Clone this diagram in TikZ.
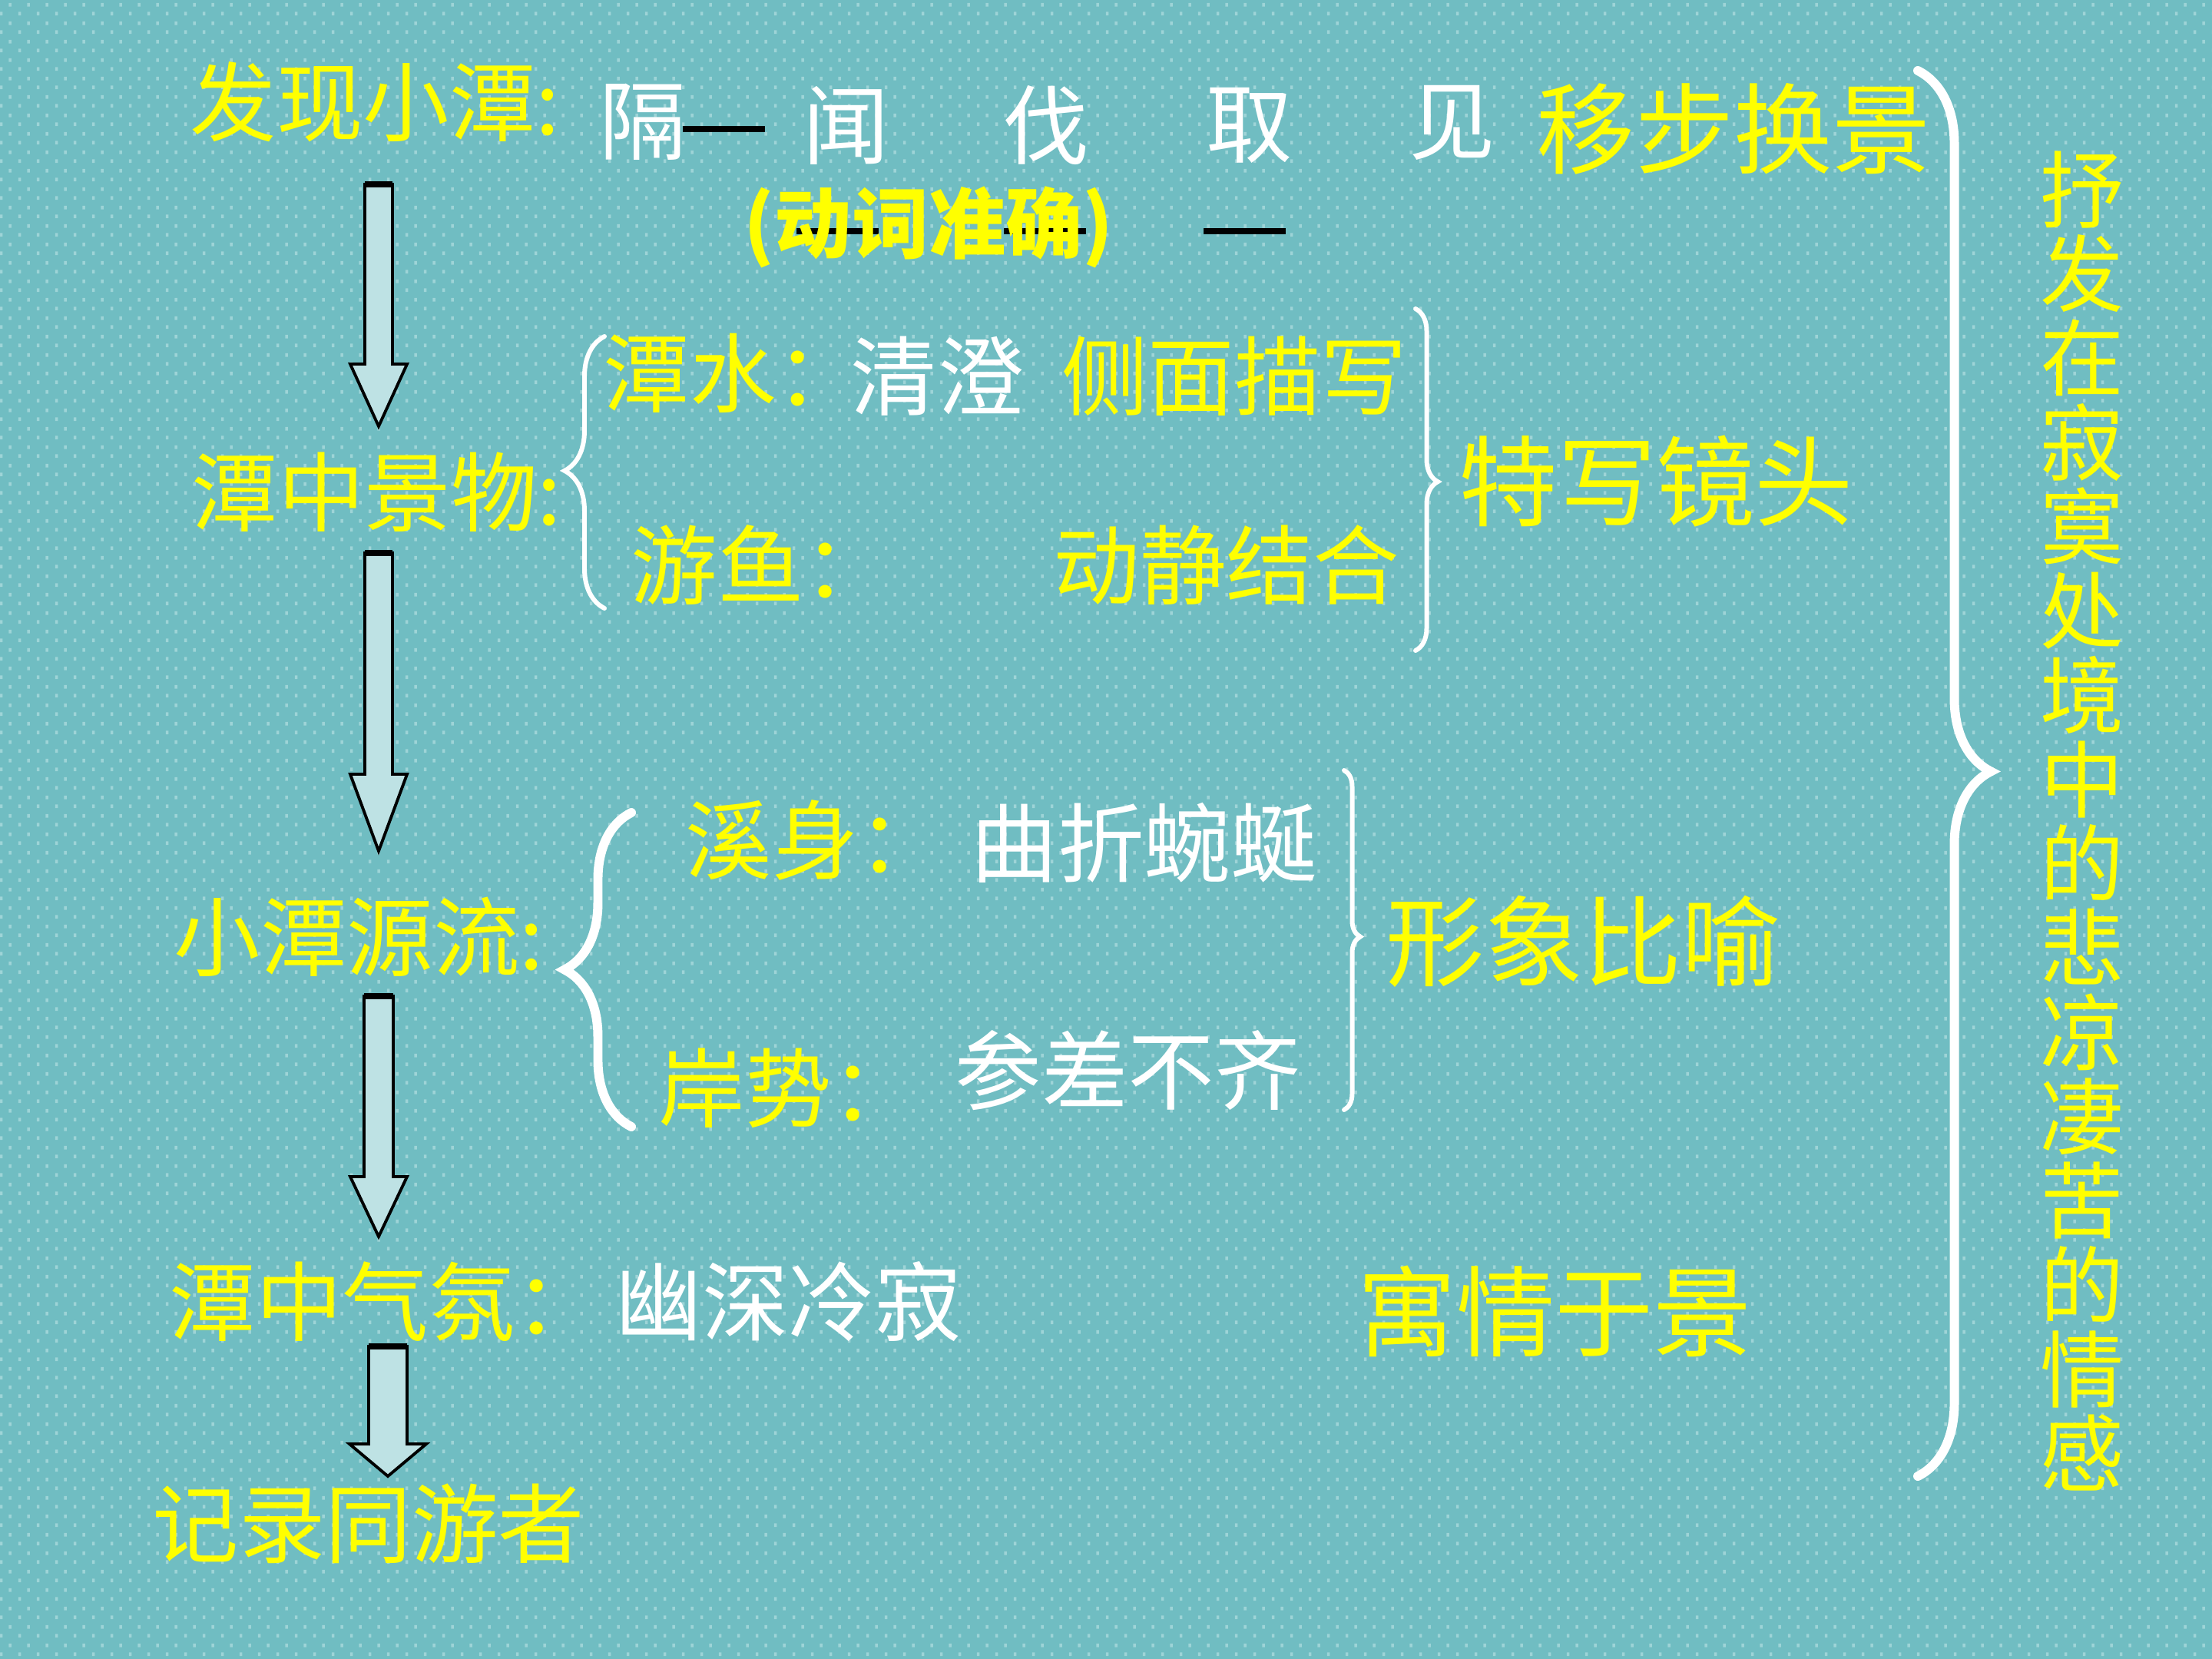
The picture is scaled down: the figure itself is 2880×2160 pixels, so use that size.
\documentclass[tikz,border=0pt]{standalone}
\usepackage{fontspec}
\setmainfont{Noto Sans CJK SC}
\usetikzlibrary{positioning,decorations.pathreplacing,patterns}

\definecolor{slideteal}{RGB}{112,189,194}
\definecolor{slidedot}{RGB}{158,212,215}
\definecolor{arrowfill}{RGB}{190,226,228}
\definecolor{hiyellow}{RGB}{255,255,0}

\pgfdeclarepatternformonly{slidedots}{\pgfpointorigin}{\pgfpoint{0.24cm}{0.24cm}}{\pgfpoint{0.24cm}{0.24cm}}{%
  \pgfpathrectangle{\pgfpoint{0.13cm}{0.17cm}}{\pgfpoint{0.035cm}{0.05cm}}%
  \pgfpathrectangle{\pgfpoint{0.01cm}{0.05cm}}{\pgfpoint{0.035cm}{0.05cm}}%
  \pgfusepath{fill}}

\begin{document}
\begin{tikzpicture}[x=0.01cm, y=0.01cm,
    yellowtxt/.style={text=hiyellow, font=\fontsize{32}{32}\selectfont, inner sep=0pt, anchor=west},
    whitetxt/.style={yellowtxt, text=white},
    bigtxt/.style={yellowtxt, font=\fontsize{36.5}{36.5}\selectfont},
    sidebrace/.style={draw=white, line width=1.7pt, line cap=round, decorate, decoration={brace, amplitude=#1}},
    blockarrow/.style={fill=arrowfill, draw=black, line width=1.1pt, line join=miter}]

    % slide background
    \useasboundingbox (0,0) rectangle (2880,-2160);
    \fill[slideteal] (0,0) rectangle (2880,-2160);
    \fill[pattern=slidedots, pattern color=slidedot] (0,0) rectangle (2880,-2160);

    % block arrows down the left column
    \foreach \cx/\ya/\yb/\yc/\sw/\hw in {493/240/474/555/18/37, 493/720/1008/1108/18/37,
                                        493/1297/1532/1610/19/37, 505/1753/1880/1922/25/50}{
        \filldraw[blockarrow] (\cx-\sw,-\ya) -- (\cx+\sw,-\ya) -- (\cx+\sw,-\yb) -- (\cx+\hw,-\yb)
            -- (\cx,-\yc) -- (\cx-\hw,-\yb) -- (\cx-\sw,-\yb) -- cycle;
        \draw[line width=2pt] (\cx-\sw,-\ya) -- (\cx+\sw,-\ya);
    }

    % black bars of the verb row
    \draw[line width=2pt] (889,-168) -- (996,-168);
    \draw[line width=2pt] (1037,-301) -- (1144,-301);
    \draw[line width=2pt] (1307,-301) -- (1414,-301);
    \draw[line width=2pt] (1567,-301) -- (1674,-301);

    % row 1
    \node[yellowtxt] (find) at (247,-133) {发现小潭:};        % finding the pond
    \node[whitetxt] (ge) at (780,-159) {隔};
    \node[whitetxt] (wen) at (1045,-163) {闻};
    \node[whitetxt] (fa) at (1305,-163) {伐};
    \node[whitetxt] (qu) at (1570,-163) {取};
    \node[whitetxt] (jian) at (1834,-160) {见};
    \node[bigtxt] (yibu) at (2000,-168) {移步换景};
    \node[yellowtxt, font=\fontsize{28.5}{28.5}\selectfont\bfseries] (verbs) at (968,-296) {(动词准确)};

    % row 2
    \node[yellowtxt] (scene) at (249,-641) {潭中景物:};        % things in the pond
    \node[yellowtxt] (water) at (785,-486) {潭水：};
    \node[whitetxt] (clear) at (1107,-490) {清澄};
    \node[yellowtxt] (side) [right=0.48cm of clear] {侧面描写};
    \node[yellowtxt] (fish) at (821,-736) {游鱼：};
    \node[yellowtxt] (still) at (1371,-736) {动静结合};
    \node[bigtxt] (closeup) at (1899,-627) {特写镜头};

    % row 3
    \node[yellowtxt] (source) at (226,-1220) {小潭源流:};     % where the stream comes from
    \node[yellowtxt] (body) at (892,-1094) {溪身：};
    \node[whitetxt] (winding) at (1264,-1097) {曲折蜿蜒};
    \node[yellowtxt] (bank) at (857,-1417) {岸势：};
    \node[whitetxt] (uneven) at (1243,-1394) {参差不齐};
    \node[bigtxt] (simile) at (1804,-1226) {形象比喻};

    % row 4
    \node[yellowtxt] (mood) at (220,-1695) {潭中气氛：};        % mood of the pond
    \node[whitetxt] (quiet) [right=0.17cm of mood] {幽深冷寂};
    \node[bigtxt] (feelscene) at (1767,-1707) {寓情于景};
    \node[yellowtxt] (friends) at (198,-1984) {记录同游者};

    % vertical summary
    \node[text=hiyellow, font=\fontsize{31}{31.2}\selectfont, align=center, inner sep=0pt] (feeling) at (2711,-1069)
        {抒\\发\\在\\寂\\寞\\处\\境\\中\\的\\悲\\凉\\凄\\苦\\的\\情\\感};

    % braces
    \draw[sidebrace=0.52cm, decoration={aspect=0.506}] (787,-792) -- (787,-438);
    \draw[sidebrace=0.29cm, decoration={aspect=0.506}] (1843,-402) -- (1843,-847);
    \draw[sidebrace=0.87cm, line width=3.4pt, decoration={aspect=0.5}] (822,-1467) -- (822,-1058);
    \draw[sidebrace=0.21cm, decoration={aspect=0.49}] (1750,-1003) -- (1750,-1445);
    \draw[sidebrace=0.95cm, line width=3.4pt, decoration={aspect=0.4986}] (2497,-92) -- (2497,-1922);

\end{tikzpicture}
\end{document}
